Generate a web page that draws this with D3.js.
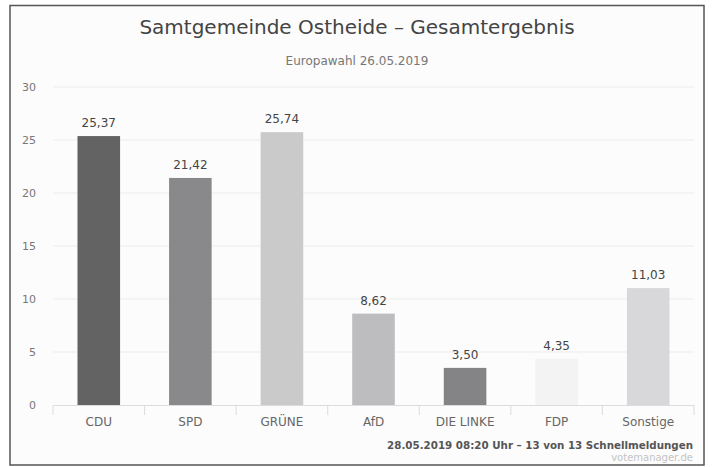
<!DOCTYPE html>
<html><head><meta charset="utf-8">
<script src="https://cdn.jsdelivr.net/npm/d3@7"></script>
<style>body{margin:0;background:#fff;}svg{display:block;font-family:"DejaVu Sans",sans-serif;}</style>
</head><body>
<svg id="chart" width="713" height="467"></svg>
<script>
const categories = ["CDU","SPD","GRÜNE","AfD","DIE LINKE","FDP","Sonstige"];
const values = [25.37,21.42,25.74,8.62,3.50,4.35,11.03];
const colors = ["#636363","#89898b","#cacaca","#bdbdbf","#848486","#f3f3f3","#d8d8da"];
const yTicks = [0,5,10,15,20,25,30];

const svg = d3.select("#chart");
svg.append("rect").attr("x",10).attr("y",5.5).attr("width",694).attr("height",459.5)
  .attr("fill","#fcfcfc").attr("stroke","#555").attr("stroke-width",1.5);

const x = d3.scaleBand().domain(categories).range([53,694]).paddingInner(0.535).paddingOuter(0.2675);
const y = d3.scaleLinear().domain([0,30]).range([405,87]);

const grid = svg.append("g");
grid.selectAll("line").data(yTicks.filter(t=>t>0)).join("line")
  .attr("x1",53).attr("x2",694).attr("y1",d=>y(d)).attr("y2",d=>y(d))
  .attr("stroke","#ececec").attr("stroke-width",1);

const yAxis = svg.append("g").attr("transform","translate(36,0)")
  .call(d3.axisLeft(y).tickValues(yTicks).tickSize(0).tickPadding(0));
yAxis.select(".domain").remove();
yAxis.selectAll("text").attr("font-size",11).attr("fill","#777").attr("font-family","DejaVu Sans");

svg.append("g").selectAll("rect").data(values).join("rect")
  .attr("x",(d,i)=>x(categories[i])).attr("width",x.bandwidth())
  .attr("y",d=>y(d)).attr("height",d=>y(0)-y(d))
  .attr("fill",(d,i)=>colors[i]);

const xAxis = svg.append("g").attr("transform","translate(0,405)")
  .call(d3.axisBottom(x).tickSize(0).tickPadding(12));
xAxis.select(".domain").attr("stroke","#dcdcdc");
xAxis.selectAll("text").attr("font-size",12).attr("fill","#666").attr("font-family","DejaVu Sans");
const step = x.step();
svg.append("g").selectAll("line").data(d3.range(categories.length+1)).join("line")
  .attr("x1",i=>53+i*step).attr("x2",i=>53+i*step).attr("y1",405).attr("y2",415)
  .attr("stroke","#dcdcdc");

const fmt = v => d3.format(".2f")(v).replace(".",",");
svg.append("g").selectAll("text").data(values).join("text")
  .attr("x",(d,i)=>x(categories[i])+x.bandwidth()/2).attr("y",d=>y(d)-9)
  .attr("text-anchor","middle").attr("font-size",12).attr("fill","#444")
  .text(fmt);

svg.append("text").attr("x",357).attr("y",34).attr("text-anchor","middle")
  .attr("font-size",20).attr("fill","#444").text("Samtgemeinde Ostheide – Gesamtergebnis");
svg.append("text").attr("x",357).attr("y",65).attr("text-anchor","middle")
  .attr("font-size",12).attr("fill","#777").text("Europawahl 26.05.2019");
svg.append("text").attr("x",693).attr("y",449).attr("text-anchor","end")
  .attr("font-size",10.3).attr("font-weight","bold").attr("fill","#555")
  .text("28.05.2019 08:20 Uhr – 13 von 13 Schnellmeldungen");
svg.append("text").attr("x",693).attr("y",461).attr("text-anchor","end")
  .attr("font-size",10).attr("fill","#c4c4c4").text("votemanager.de");
</script>
</body></html>
